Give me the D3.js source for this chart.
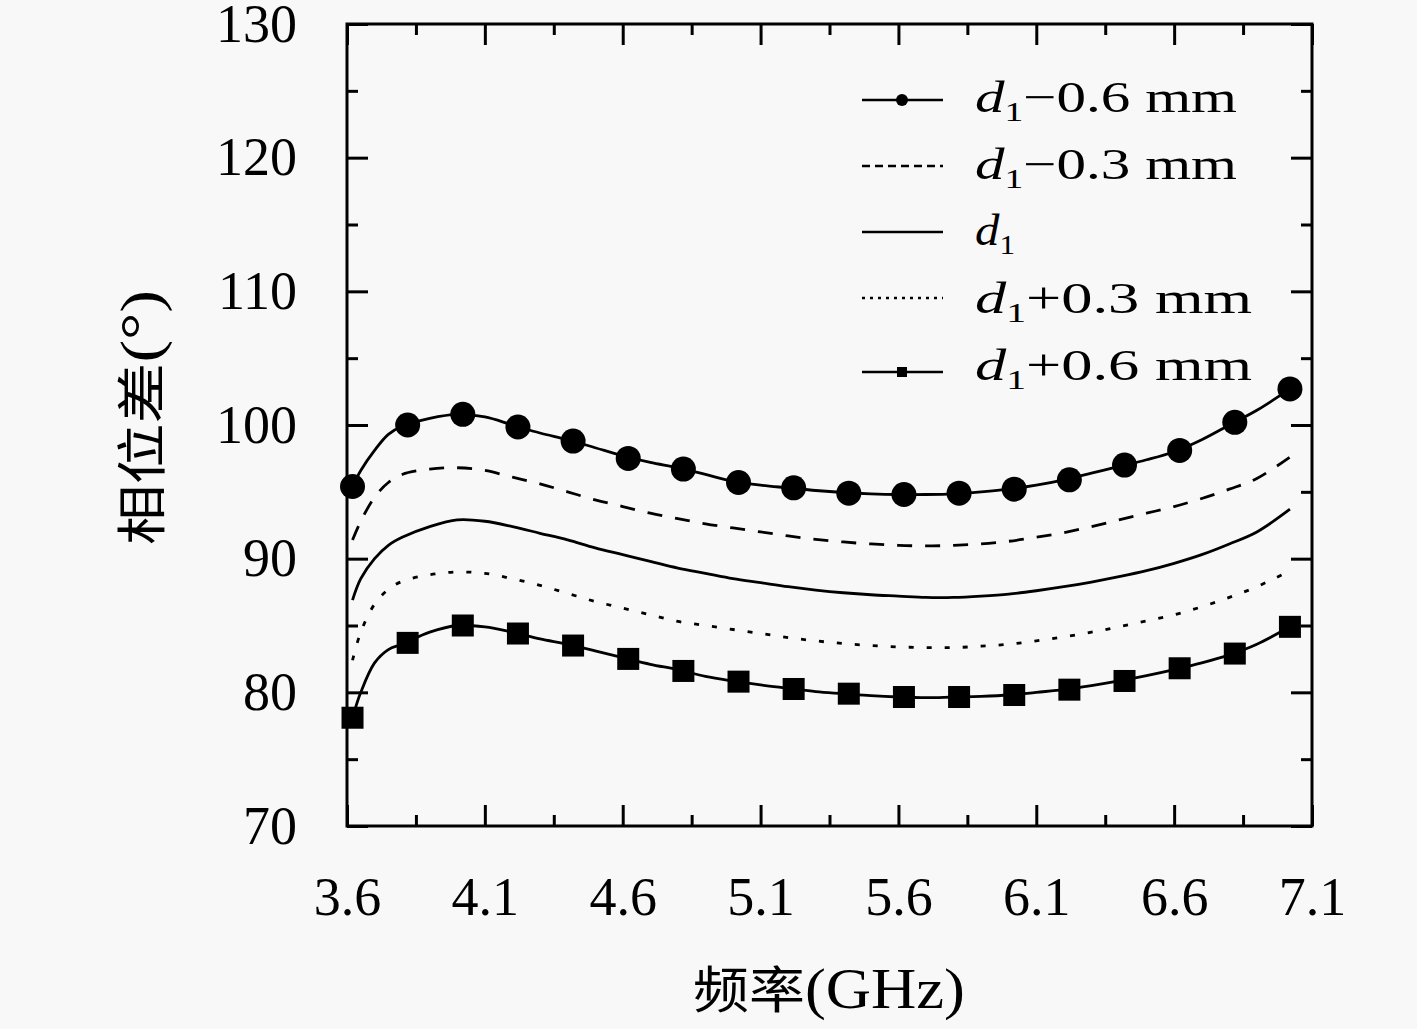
<!DOCTYPE html>
<html>
<head>
<meta charset="utf-8">
<script src="https://cdn.jsdelivr.net/npm/d3@7"></script>
<style>
  html, body { margin: 0; padding: 0; background: #f8f8f8; }
  svg { display: block; }
</style>
</head>
<body>
<svg id="chart" width="1417" height="1029"></svg>
<script>
// ---------------- data ----------------
const freq = [3.62, 3.65, 3.70, 3.75, 3.80, 3.90, 4.00, 4.10, 4.20, 4.30, 4.40, 4.50, 4.60, 4.70, 4.80, 4.90,
              5.00, 5.10, 5.20, 5.30, 5.40, 5.50, 5.60, 5.70, 5.80, 5.90, 6.00, 6.10, 6.20, 6.30, 6.40, 6.50,
              6.60, 6.70, 6.80, 6.90, 7.02];

const seriesM06 = [95.4, 96.6, 98.1, 99.3, 99.9, 100.5, 100.8, 100.6, 100.0, 99.4, 98.9, 98.3, 97.7, 97.2, 96.8, 96.3,
                   95.8, 95.5, 95.3, 95.1, 94.95, 94.85, 94.8, 94.8, 94.85, 95.0, 95.2, 95.5, 95.9, 96.4, 96.9, 97.4,
                   98.0, 98.9, 100.0, 101.1, 102.7];
const seriesM03 = [91.4, 92.8, 94.6, 95.7, 96.3, 96.7, 96.8, 96.6, 96.1, 95.6, 95.0, 94.4, 93.9, 93.4, 93.0, 92.6,
                   92.3, 92.0, 91.7, 91.45, 91.25, 91.1, 91.0, 90.95, 91.0, 91.1, 91.3, 91.6, 91.95, 92.4, 92.9, 93.4,
                   93.9, 94.5, 95.2, 96.0, 97.6];
const seriesD1  = [86.9, 88.5, 90.0, 91.0, 91.6, 92.4, 92.9, 92.8, 92.4, 91.9, 91.4, 90.8, 90.3, 89.8, 89.3, 88.9,
                   88.5, 88.2, 87.9, 87.65, 87.45, 87.3, 87.2, 87.1, 87.1, 87.2, 87.35, 87.6, 87.9, 88.25, 88.65, 89.1,
                   89.65, 90.3, 91.1, 92.0, 93.7];
const seriesP03 = [82.4, 84.5, 86.6, 87.7, 88.3, 88.8, 89.0, 88.9, 88.5, 88.0, 87.4, 86.8, 86.3, 85.8, 85.3, 85.0,
                   84.7, 84.4, 84.1, 83.85, 83.65, 83.5, 83.4, 83.35, 83.35, 83.45, 83.6, 83.85, 84.15, 84.5, 84.9, 85.35,
                   85.8, 86.4, 87.1, 87.9, 89.1];
const seriesP06 = [78.1, 80.0, 82.2, 83.2, 83.6, 84.5, 85.0, 84.9, 84.5, 84.0, 83.6, 83.1, 82.6, 82.1, 81.7, 81.2,
                   80.85, 80.55, 80.3, 80.05, 79.9, 79.75, 79.65, 79.6, 79.65, 79.7, 79.8, 80.0, 80.2, 80.5, 80.85, 81.25,
                   81.7, 82.2, 82.8, 83.6, 84.9];

const markerFreq = [3.62, 3.82, 4.02, 4.22, 4.42, 4.62, 4.82, 5.02, 5.22, 5.42, 5.62, 5.82, 6.02, 6.22, 6.42, 6.62, 6.82, 7.02];
const circleVals = [95.4, 100.0, 100.8, 99.85, 98.8, 97.5, 96.7, 95.7, 95.3, 94.9, 94.8, 94.9, 95.2, 95.9, 97.0, 98.1, 100.2, 102.7];
const squareVals = [78.1, 83.7, 85.0, 84.4, 83.5, 82.5, 81.6, 80.8, 80.25, 79.9, 79.65, 79.65, 79.8, 80.2, 80.85, 81.8, 82.9, 84.9];

const xMajor = [3.6, 4.1, 4.6, 5.1, 5.6, 6.1, 6.6, 7.1];
const xMinor = [3.85, 4.35, 4.85, 5.35, 5.85, 6.35, 6.85];
const yMajor = [70, 80, 90, 100, 110, 120, 130];
const yMinor = [75, 85, 95, 105, 115, 125];

const legendLabels = ["−0.6 mm", "−0.3 mm", "", "+0.3 mm", "+0.6 mm"];
const xTitleCJK = "频率", xTitleUnit = "(GHz)";
const yTitleCJK = "相位差", yTitleUnit = "(°)";

// ---------------- drawing ----------------
const svg = d3.select("#chart");
const L = 347, R = 1312, T = 24, B = 826;
const x = d3.scaleLinear().domain([3.6, 7.1]).range([L, R]);
const y = d3.scaleLinear().domain([70, 130]).range([B, T]);

const numFont = "'Liberation Serif', 'DejaVu Serif', serif";
const cjkFont = "'Noto Sans CJK SC', sans-serif";

svg.append("rect").attr("width", 1417).attr("height", 1029).attr("fill", "#f8f8f8");

function styleAxis(g, fontSize) {
  g.select(".domain").remove();
  g.selectAll(".tick line").attr("stroke", "#000").attr("stroke-width", 3);
  g.selectAll(".tick text").attr("fill", "#000").attr("font-family", numFont).attr("font-size", fontSize);
}

// bottom
svg.append("g").attr("transform", `translate(0,${B})`)
  .call(d3.axisBottom(x).tickValues(xMajor).tickFormat(d3.format(".1f")).tickSize(-21).tickSizeOuter(0).tickPadding(51))
  .call(g => styleAxis(g, 54));
svg.append("g").attr("transform", `translate(0,${B})`)
  .call(d3.axisBottom(x).tickValues(xMinor).tickFormat("").tickSize(-11).tickSizeOuter(0))
  .call(g => styleAxis(g, 54));
// top
svg.append("g").attr("transform", `translate(0,${T})`)
  .call(d3.axisTop(x).tickValues(xMajor).tickFormat("").tickSize(-21).tickSizeOuter(0))
  .call(g => styleAxis(g, 54));
svg.append("g").attr("transform", `translate(0,${T})`)
  .call(d3.axisTop(x).tickValues(xMinor).tickFormat("").tickSize(-11).tickSizeOuter(0))
  .call(g => styleAxis(g, 54));
// left
svg.append("g").attr("transform", `translate(${L},0)`)
  .call(d3.axisLeft(y).tickValues(yMajor).tickFormat(d3.format("d")).tickSize(-21).tickSizeOuter(0).tickPadding(50))
  .call(g => styleAxis(g, 54));
svg.append("g").attr("transform", `translate(${L},0)`)
  .call(d3.axisLeft(y).tickValues(yMinor).tickFormat("").tickSize(-11).tickSizeOuter(0))
  .call(g => styleAxis(g, 54));
// right
svg.append("g").attr("transform", `translate(${R},0)`)
  .call(d3.axisRight(y).tickValues(yMajor).tickFormat("").tickSize(-21).tickSizeOuter(0))
  .call(g => styleAxis(g, 54));
svg.append("g").attr("transform", `translate(${R},0)`)
  .call(d3.axisRight(y).tickValues(yMinor).tickFormat("").tickSize(-11).tickSizeOuter(0))
  .call(g => styleAxis(g, 54));

// frame
svg.append("rect").attr("x", L).attr("y", T).attr("width", R - L).attr("height", B - T)
  .attr("fill", "none").attr("stroke", "#000").attr("stroke-width", 3);

// lines
const line = d3.line().x(d => x(d[0])).y(d => y(d[1])).curve(d3.curveCatmullRom.alpha(0.5));
const styles = [
  { vals: seriesM06, dash: null,    legDash: null },
  { vals: seriesM03, dash: "15,13", legDash: "8,5" },
  { vals: seriesD1,  dash: null,    legDash: null },
  { vals: seriesP03, dash: "5,13",  legDash: "3,5" },
  { vals: seriesP06, dash: null,    legDash: null }
];
styles.forEach(s => {
  svg.append("path")
    .datum(freq.map((f, i) => [f, s.vals[i]]))
    .attr("d", line)
    .attr("fill", "none").attr("stroke", "#000").attr("stroke-width", 2.8)
    .attr("stroke-dasharray", s.dash);
});

// markers
svg.append("g").selectAll("circle")
  .data(markerFreq.map((f, i) => [f, circleVals[i]]))
  .join("circle")
  .attr("cx", d => x(d[0])).attr("cy", d => y(d[1])).attr("r", 12.5).attr("fill", "#000");
svg.append("g").selectAll("rect")
  .data(markerFreq.map((f, i) => [f, squareVals[i]]))
  .join("rect")
  .attr("x", d => x(d[0]) - 11).attr("y", d => y(d[1]) - 11)
  .attr("width", 22).attr("height", 22).attr("fill", "#000");

// legend
const legLineY = [100, 166, 232, 298, 372];
const legTextY = [112, 179, 245, 313, 380];
const legTextW = [262, 262, 40, 277, 277];
const lg = svg.append("g");
styles.forEach((s, i) => {
  lg.append("line").attr("x1", 862).attr("x2", 943).attr("y1", legLineY[i]).attr("y2", legLineY[i])
    .attr("stroke", "#000").attr("stroke-width", 2.4).attr("stroke-dasharray", s.legDash);
  if (i === 0) lg.append("circle").attr("cx", 902).attr("cy", legLineY[i]).attr("r", 6).attr("fill", "#000");
  if (i === 4) lg.append("rect").attr("x", 897).attr("y", legLineY[i] - 5).attr("width", 10).attr("height", 10).attr("fill", "#000");
  const t = lg.append("text").attr("x", 975).attr("y", legTextY[i])
    .attr("font-family", numFont).attr("font-size", 44).attr("fill", "#000")
    .attr("textLength", legTextW[i]).attr("lengthAdjust", "spacingAndGlyphs");
  t.append("tspan").attr("font-style", "italic").text("d");
  t.append("tspan").attr("font-size", 28).attr("dy", 9).text("1");
  if (legendLabels[i]) t.append("tspan").attr("dy", -9).text(legendLabels[i]);
});

// axis titles
const xt = svg.append("text").attr("x", 693).attr("y", 1008)
  .attr("fill", "#000").attr("textLength", 272).attr("lengthAdjust", "spacingAndGlyphs");
xt.append("tspan").attr("font-family", cjkFont).attr("font-size", 50).text(xTitleCJK);
xt.append("tspan").attr("font-family", numFont).attr("font-size", 56).text(xTitleUnit);

const yt = svg.append("text").attr("transform", "translate(160,545) rotate(-90)")
  .attr("fill", "#000").attr("textLength", 255).attr("lengthAdjust", "spacingAndGlyphs");
yt.append("tspan").attr("font-family", cjkFont).attr("font-size", 50).text(yTitleCJK);
yt.append("tspan").attr("font-family", numFont).attr("font-size", 56).text(yTitleUnit);
</script>
</body>
</html>
